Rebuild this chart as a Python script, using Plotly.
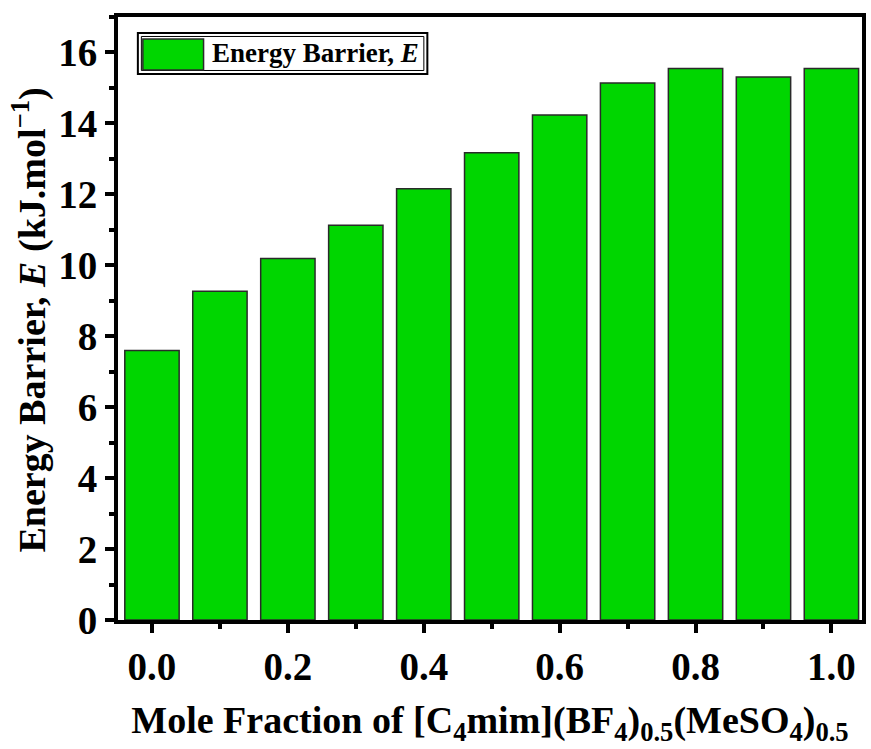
import plotly.graph_objects as go

mole_fraction = [0.0, 0.1, 0.2, 0.3, 0.4, 0.5, 0.6, 0.7, 0.8, 0.9, 1.0]
energy_barrier = [7.60, 9.27, 10.19, 11.13, 12.16, 13.17, 14.24, 15.14, 15.55, 15.31, 15.55]
x_tick_vals = [0.0, 0.2, 0.4, 0.6, 0.8, 1.0]
x_tick_text = ["0.0", "0.2", "0.4", "0.6", "0.8", "1.0"]
y_tick_vals = [0, 2, 4, 6, 8, 10, 12, 14, 16]

GREEN = "rgb(0,214,0)"
FONT = "Liberation Serif"

fig = go.Figure()
fig.add_trace(go.Bar(
    x=mole_fraction, y=energy_barrier,
    marker=dict(color=GREEN, line=dict(color="#2a2a2a", width=1.5)),
    name="Energy Barrier, E", showlegend=False,
))

axis_common = dict(
    showline=True, linecolor="black", linewidth=4, mirror=True,
    ticks="outside", tickcolor="black", tickwidth=4, ticklen=9,
    showgrid=False, zeroline=False,
    tickfont=dict(family=FONT, size=39, color="black", weight="bold"),
)

fig.update_xaxes(
    range=[-0.05, 1.045], tickvals=x_tick_vals, ticktext=x_tick_text,
    minor=dict(tickvals=[0.1, 0.3, 0.5, 0.7, 0.9], ticks="outside", ticklen=5, tickwidth=4, tickcolor="black"),
    title=dict(text="Mole Fraction of [C<sub>4</sub>mim](BF<sub>4</sub>)<sub>0.5</sub>(MeSO<sub>4</sub>)<sub>0.5</sub>",
               font=dict(family=FONT, size=38, color="black", weight="bold"), standoff=21),
    **axis_common,
)
fig.update_yaxes(
    range=[0, 17], tickvals=y_tick_vals,
    minor=dict(dtick=1, tick0=1, ticks="outside", ticklen=5, tickwidth=4, tickcolor="black"),
    **axis_common,
)

# y-axis title as a rotated annotation
fig.add_annotation(xref="paper", yref="paper", x=-0.119, y=0.4975, xanchor="center", yanchor="middle",
                   textangle=-90, showarrow=False,
                   text="Energy Barrier, <i>E</i> (kJ.mol<sup>\u22121</sup>)",
                   font=dict(family=FONT, size=38, color="black", weight="bold"))

# manual legend (large swatch as in the original)
fig.add_shape(type="rect", xref="paper", yref="paper", x0=0.0267, x1=0.4158, y0=0.9055, y1=0.9735,
              line=dict(color="black", width=2), fillcolor="white", layer="above")
fig.add_shape(type="rect", xref="paper", yref="paper", x0=0.0314, x1=0.4111, y0=0.9113, y1=0.9677,
              line=dict(color="black", width=1), layer="above")
fig.add_shape(type="rect", xref="paper", yref="paper", x0=0.0334, x1=0.1150, y0=0.9121, y1=0.9635,
              line=dict(color="#2a2a2a", width=1.5), fillcolor=GREEN, layer="above")
fig.add_annotation(xref="paper", yref="paper", x=0.1230, y=0.940, xanchor="left", yanchor="middle",
                   text="Energy Barrier, <i>E</i>", showarrow=False,
                   font=dict(family=FONT, size=27, color="black", weight="bold"))

fig.update_layout(
    width=871, height=749,
    margin=dict(l=118, r=5, t=17, b=129),
    plot_bgcolor="white", paper_bgcolor="white",
    bargap=0.2,
)

fig.write_html("out.html")
